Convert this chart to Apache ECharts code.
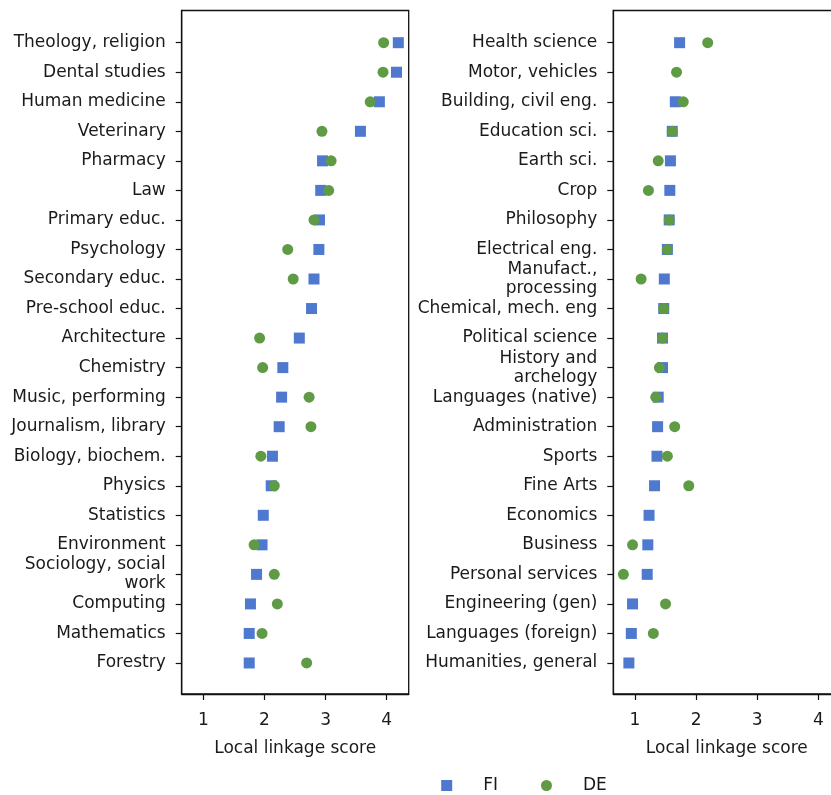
<!DOCTYPE html>
<html><head><meta charset="utf-8">
<script src="https://cdn.jsdelivr.net/npm/echarts@6/dist/echarts.min.js"></script>
<style>html,body{margin:0;padding:0;background:#fff;overflow:hidden;width:831px;height:795px}#c{width:842px;height:795px}</style>
</head><body><div id="c"></div>
<script>
const leftCategories = ["Theology, religion","Dental studies","Human medicine","Veterinary","Pharmacy","Law","Primary educ.","Psychology","Secondary educ.","Pre-school educ.","Architecture","Chemistry","Music, performing","Journalism, library","Biology, biochem.","Physics","Statistics","Environment","Sociology, social\nwork","Computing","Mathematics","Forestry"];
const leftFI = [4.19,4.16,3.88,3.57,2.95,2.92,2.90,2.89,2.81,2.77,2.57,2.30,2.28,2.24,2.13,2.11,1.98,1.96,1.87,1.77,1.75,1.75];
const leftDE = [3.95,3.94,3.73,2.94,3.09,3.05,2.81,2.38,2.47,null,1.92,1.97,2.73,2.76,1.94,2.16,null,1.83,2.16,2.21,1.96,2.69];
const rightCategories = ["Health science","Motor, vehicles","Building, civil eng.","Education sci.","Earth sci.","Crop","Philosophy","Electrical eng.","Manufact.,\nprocessing","Chemical, mech. eng","Political science","History and\narchelogy","Languages (native)","Administration","Sports","Fine Arts","Economics","Business","Personal services","Engineering (gen)","Languages (foreign)","Humanities, general"];
const rightFI = [1.73,null,1.66,1.61,1.58,1.57,1.56,1.53,1.48,1.47,1.45,1.45,1.38,1.37,1.36,1.32,1.23,1.21,1.20,0.96,0.94,0.90];
const rightDE = [2.19,1.68,1.79,1.61,1.38,1.22,1.56,1.53,1.10,1.47,1.45,1.40,1.34,1.65,1.53,1.88,null,0.96,0.81,1.50,1.30,null];
const xTicks = [1,2,3,4];
const seriesNames = ["FI","DE"];

const FONT = 'DejaVu Sans';
const TXT = '#1a1a1a';
const BLUE = '#4f79cf';
const GREEN = '#5f9a45';

function pts(vals){ const out=[]; vals.forEach((v,i)=>{ if(v!==null) out.push([v,i]); }); return out; }
function idxs(n){ return Array.from({length:n},(_,i)=>i); }

function xAxis(gi){
  return {
    gridIndex: gi, type:'value', min:0.645, max:4.36, position:'bottom',
    axisLine:{show:true, onZero:false, lineStyle:{color:'#111', width:1.3}},
    axisTick:{show:true, inside:false, length:6, lineStyle:{color:'#111', width:1.2}, customValues:xTicks},
    axisLabel:{show:true, margin:18, fontFamily:FONT, fontSize:17, color:TXT, customValues:xTicks},
    splitLine:{show:false},
    name:'Local linkage score', nameLocation:'middle', nameGap:46,
    nameTextStyle:{fontFamily:FONT, fontSize:17, color:TXT}
  };
}
function yAxis(gi, cats){
  return {
    gridIndex: gi, type:'value', inverse:true, min:-1.09, max:cats.length-1+1.05, position:'left',
    axisLine:{show:true, onZero:false, lineStyle:{color:'#111', width:1.3}},
    axisTick:{show:true, inside:false, length:6, lineStyle:{color:'#111', width:1.2}, customValues:idxs(cats.length)},
    axisLabel:{show:true, margin:16, fontFamily:FONT, fontSize:17, color:TXT, lineHeight:19, padding:[3,0,0,0],
      customValues:idxs(cats.length), formatter:(v)=>cats[Math.round(v)] },
    splitLine:{show:false}
  };
}
function sc(name, gi, vals, sym, color, z){
  return {
    name, type:'scatter', xAxisIndex:gi, yAxisIndex:gi, data:pts(vals),
    symbol:sym, symbolSize:11, z,
    itemStyle:{color, opacity:1}, emphasis:{disabled:true}
  };
}

const chart = echarts.init(document.getElementById('c'), null, {renderer:'canvas'});
chart.setOption({
  animation:false,
  backgroundColor:'#fff',
  grid:[
    {left:181.7, top:10.5, width:227, height:683.5, show:true, borderColor:'#111', borderWidth:1.3, backgroundColor:'transparent'},
    {left:613.3, top:10.5, width:227, height:683.5, show:true, borderColor:'#111', borderWidth:1.3, backgroundColor:'transparent'}
  ],
  xAxis:[xAxis(0), xAxis(1)],
  yAxis:[yAxis(0,leftCategories), yAxis(1,rightCategories)],
  legend:{
    left:441.2, top:777, padding:0, itemWidth:11, itemHeight:11, itemGap:43,
    data:[{name:seriesNames[0], icon:'rect'},{name:seriesNames[1], icon:'circle'}],
    textStyle:{fontFamily:FONT, fontSize:17, color:TXT, padding:[0,0,0,26]}
  },
  series:[
    sc(seriesNames[0],0,leftFI,'rect',BLUE,2),
    sc(seriesNames[1],0,leftDE,'circle',GREEN,3),
    sc(seriesNames[0],1,rightFI,'rect',BLUE,2),
    sc(seriesNames[1],1,rightDE,'circle',GREEN,3)
  ]
});
</script>
</body></html>
